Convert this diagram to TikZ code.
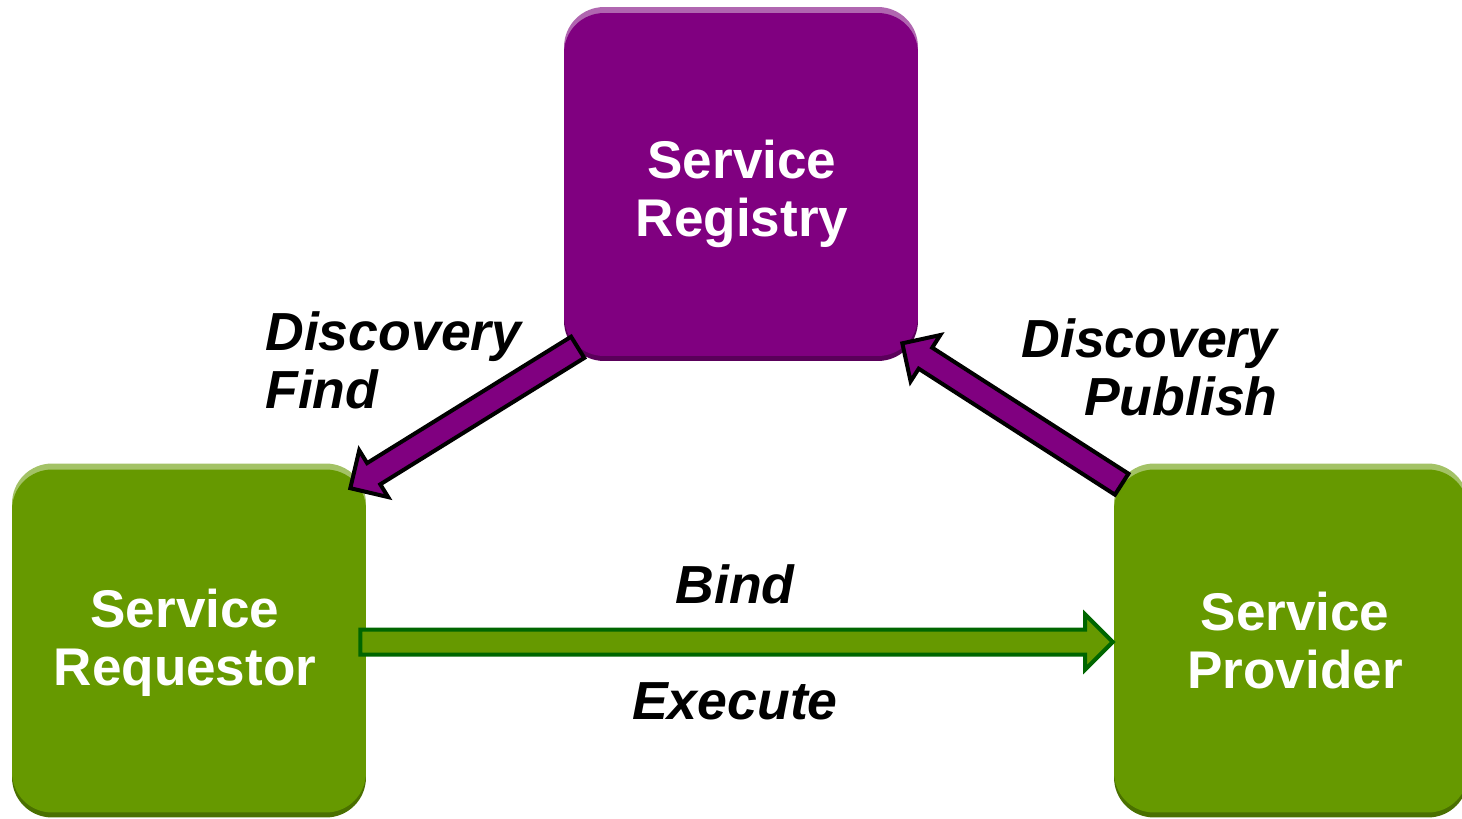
\documentclass[tikz,border=0pt]{standalone}
\usepackage{fontspec}
\setmainfont{Liberation Sans}
\usepackage{tikz}
\usetikzlibrary{calc}

\definecolor{regpurple}{HTML}{800080}
\definecolor{reglight}{HTML}{B066B0}
\definecolor{regdark}{HTML}{5A005A}
\definecolor{svcgreen}{HTML}{669900}
\definecolor{svclight}{HTML}{A3C266}
\definecolor{svcdark}{HTML}{4A7000}
\definecolor{binddark}{HTML}{006600}

\tikzset{
  svcbox/.style 2 args={rounded corners=0.8cm, minimum width=7.08cm, minimum height=6.86cm,
    inner sep=0pt,
    preaction={fill=#1, transform canvas={yshift=0.12cm}},
    preaction={fill=#2, transform canvas={yshift=-0.1cm}}},
  boxtext/.style={inner sep=0pt, text=white, align=center,
    font=\bfseries\fontsize{30.2}{33}\selectfont},
  fatarrow/.style={line width=0.08cm, draw=black, fill=regpurple, line join=miter},
  arrowlabel/.style={inner sep=0pt, font=\bfseries\itshape\fontsize{30.5}{33}\selectfont}
}

% fat arrow from #2 to #3
\newcommand{\fatarrow}[3][]{%
  \coordinate (headbase) at ($(#3)!0.55cm!(#2)$);
  \draw[fatarrow,#1] ($(#2)!0.25cm!90:(#3)$) -- ($(headbase)!0.25cm!90:(#3)$)
    -- ($(headbase)!0.55cm!90:(#3)$) -- (#3) -- ($(headbase)!0.55cm!-90:(#3)$)
    -- ($(headbase)!0.25cm!-90:(#3)$) -- ($(#2)!0.25cm!-90:(#3)$) -- cycle;
}

\begin{document}
\begin{tikzpicture}[x=0.02cm, y=-0.02cm]
	%\draw[help lines] (0,0) grid[step=100] (1462,818);
	\useasboundingbox (0,0) rectangle (1462,818);
	\node[svcbox={reglight}{regdark}, fill=regpurple] (reg) at (741,184.5) {};
	\node[svcbox={svclight}{svcdark}, fill=svcgreen] (req) at (189,641) {};
	\node[svcbox={svclight}{svcdark}, fill=svcgreen] (prov) at (1291,641) {};
	\node[boxtext] (regname) at ($(reg.center)+(1,9)$) {Service\\Registry};
	\node[boxtext] (reqname) at ($(req.center)+(-4,2)$) {Service\\Requestor};
	\node[boxtext] (provname) at ($(prov.center)+(4,0)$) {Service\\Provider};

	\coordinate (findtail) at ($(reg.south west)+(14,-9)$);
	\coordinate (findtip) at ($(req.north east)+(-16,19)$);
	\coordinate (pubtail) at ($(prov.north west)+(8,15)$);
	\coordinate (pubtip) at ($(reg.south east)+(-16,-13)$);
	\coordinate (bindtail) at ($(req.east)+(-6,1)$);
	\coordinate (bindtip) at ($(prov.west)+(-1,1)$);

	\fatarrow{findtail}{findtip}
	\fatarrow{pubtail}{pubtip}
	\fatarrow[draw=binddark, fill=svcgreen]{bindtail}{bindtip}

	\node[arrowlabel, anchor=north west, align=left] (find) at (265,311) {Discovery\\Find};
	\node[arrowlabel, anchor=north east, align=right] (publish) at (1278,318) {Discovery\\Publish};
	\node[arrowlabel, anchor=base] (bind) at (735,603) {Bind};
	\node[arrowlabel, anchor=base] (execute) at (735,719) {Execute};
\end{tikzpicture}
\end{document}
